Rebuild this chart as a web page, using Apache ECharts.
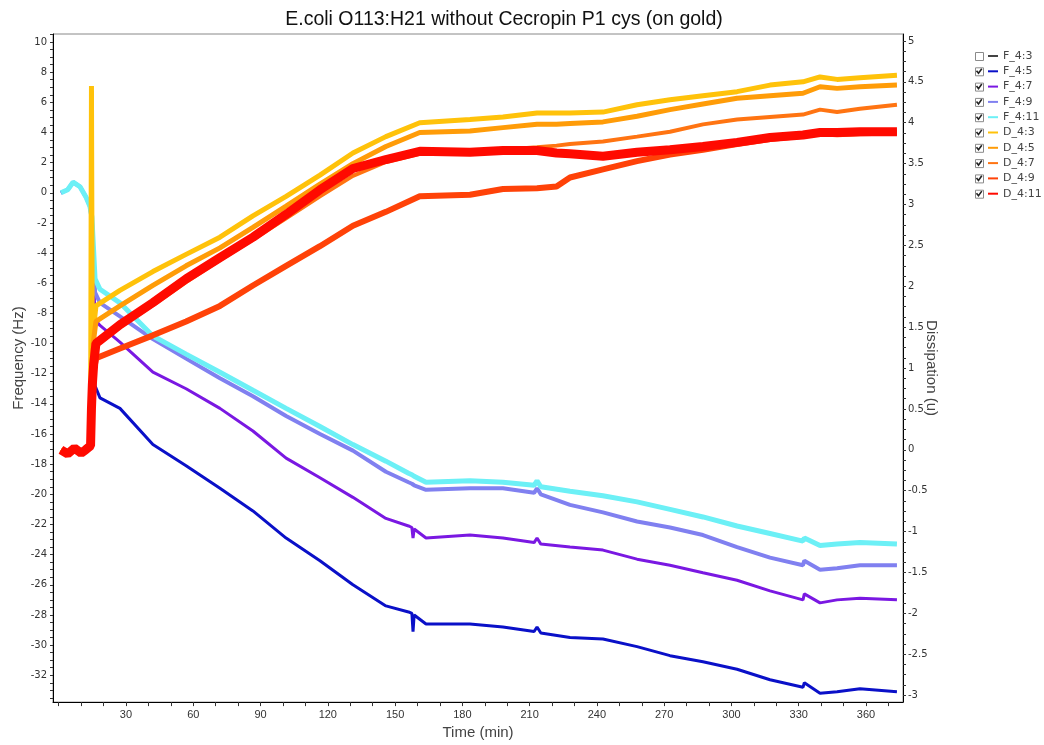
<!DOCTYPE html>
<html>
<head>
<meta charset="utf-8">
<script src="https://cdn.jsdelivr.net/npm/echarts@6/dist/echarts.min.js"></script>
<style>html,body{margin:0;padding:0;background:#fff}#c{width:1044px;height:745px}</style>
</head>
<body>
<div id="c"></div>
<script>
// ---- data (time in min) ----
const timeF = [1, 4, 6.4, 9.5, 12.2, 13.9, 14.8, 16.2, 18.4, 27.3, 42, 56.8, 71.9, 86.6, 101.4, 116.5, 131.2, 145.9, 156, 157.5, 158, 158.5, 163.8, 183.4, 198.1, 212, 213.3, 215, 228, 242.7, 257.9, 272.6, 287.3, 302.5, 317.2, 331.9, 332.5, 339.5, 347.1, 357.3, 373.8];
const F_4_3 = [];
const F_4_5 = [0.0, 0.2, 0.7, 0.4, -0.3, -0.9, -1.6, -12.8, -13.6, -14.3, -16.7, -18.1, -19.6, -21.1, -22.9, -24.4, -26.0, -27.4, -27.8, -27.9, -29.1, -28.0, -28.6, -28.6, -28.8, -29.1, -28.8, -29.2, -29.5, -29.6, -30.1, -30.7, -31.1, -31.6, -32.3, -32.8, -32.5, -33.2, -33.1, -32.9, -33.1];
const F_4_7 = [0.0, 0.2, 0.7, 0.4, -0.3, -0.9, -2.0, -8.4, -8.8, -9.9, -11.9, -13.0, -14.3, -15.8, -17.6, -18.9, -20.2, -21.6, -22.1, -22.2, -22.9, -22.3, -22.9, -22.7, -22.9, -23.2, -22.9, -23.3, -23.5, -23.7, -24.3, -24.7, -25.2, -25.7, -26.4, -27.0, -26.6, -27.2, -27.0, -26.9, -27.0];
const F_4_9 = [0.0, 0.2, 0.7, 0.4, -0.3, -0.9, -1.8, -6.6, -7.3, -8.2, -9.7, -11.0, -12.3, -13.5, -14.8, -16.0, -17.1, -18.5, -19.2, -19.3, -19.4, -19.4, -19.7, -19.6, -19.6, -19.9, -19.6, -20.0, -20.7, -21.2, -21.8, -22.2, -22.7, -23.5, -24.2, -24.7, -24.4, -25.0, -24.9, -24.7, -24.7];
const F_4_11 = [0.0, 0.2, 0.7, 0.4, -0.3, -0.9, -1.6, -5.7, -6.4, -7.3, -9.5, -10.7, -11.9, -13.1, -14.3, -15.5, -16.7, -17.8, -18.6, -18.7, -18.8, -18.8, -19.2, -19.1, -19.2, -19.4, -19.1, -19.5, -19.8, -20.1, -20.5, -21.0, -21.5, -22.1, -22.6, -23.1, -22.9, -23.4, -23.3, -23.2, -23.3];

const timeD = [1, 4, 7, 10, 12, 14.2, 14.6, 15.0, 15.6, 16.6, 27.3, 42, 56.8, 71.9, 86.6, 101.4, 116.5, 131.2, 145.9, 161, 183.4, 198.1, 213.3, 222, 228, 242.7, 257.9, 272.6, 287.3, 302.5, 317.2, 331.9, 339.5, 347.1, 357.3, 373.8];
const D_4_3 = [0.0, -0.05, 0.02, -0.04, 0.0, 0.05, 4.45, 1.0, 1.5, 1.76, 1.95, 2.18, 2.39, 2.6, 2.86, 3.1, 3.36, 3.63, 3.83, 4.0, 4.04, 4.07, 4.12, 4.12, 4.12, 4.13, 4.22, 4.28, 4.33, 4.38, 4.46, 4.5, 4.56, 4.53, 4.55, 4.58];
const D_4_5 = [0.0, -0.05, 0.02, -0.04, 0.0, 0.05, 0.9, 1.1, 1.35, 1.57, 1.76, 2.01, 2.25, 2.47, 2.72, 2.98, 3.25, 3.5, 3.71, 3.88, 3.9, 3.94, 3.98, 3.98, 3.99, 4.01, 4.08, 4.16, 4.23, 4.3, 4.33, 4.36, 4.44, 4.42, 4.44, 4.46];
const D_4_7 = [0.0, -0.05, 0.02, -0.04, 0.0, 0.05, 0.7, 0.9, 1.1, 1.27, 1.5, 1.77, 2.05, 2.32, 2.57, 2.83, 3.1, 3.35, 3.52, 3.62, 3.65, 3.67, 3.7, 3.72, 3.74, 3.77, 3.83, 3.89, 3.98, 4.04, 4.07, 4.1, 4.16, 4.13, 4.17, 4.22];
const D_4_9 = [0.0, -0.05, 0.02, -0.04, 0.0, 0.05, 0.4, 0.7, 0.95, 1.12, 1.24, 1.4, 1.57, 1.76, 2.01, 2.25, 2.49, 2.74, 2.91, 3.1, 3.12, 3.19, 3.2, 3.22, 3.33, 3.43, 3.53, 3.61, 3.67, 3.74, 3.8, 3.84, 3.87, 3.86, 3.87, 3.88];
const D_4_11 = [0.0, -0.05, 0.02, -0.04, 0.0, 0.05, 0.5, 0.8, 1.05, 1.3, 1.53, 1.8, 2.09, 2.35, 2.6, 2.88, 3.18, 3.44, 3.55, 3.65, 3.64, 3.66, 3.66, 3.63, 3.62, 3.59, 3.64, 3.67, 3.71, 3.76, 3.82, 3.85, 3.88, 3.88, 3.89, 3.89];

const seriesNames = ['F_4:3', 'F_4:5', 'F_4:7', 'F_4:9', 'F_4:11', 'D_4:3', 'D_4:5', 'D_4:7', 'D_4:9', 'D_4:11'];
const xLabelValues = [30, 60, 90, 120, 150, 180, 210, 240, 270, 300, 330, 360];

// ---- helpers to build the option ----
function pairs(t, v) { return v.map((y, i) => [t[i], y]); }
function range(a, b, s) { const r = []; for (let v = a; v <= b + 1e-9; v += s) r.push(Math.round(v * 1000) / 1000); return r; }

const fSeries = [
  { name: 'F_4:3', data: pairs(timeF, F_4_3), color: '#2c2c6c', w: 2 },
  { name: 'F_4:5', data: pairs(timeF, F_4_5), color: '#0a10c8', w: 3 },
  { name: 'F_4:7', data: pairs(timeF, F_4_7), color: '#7a18e2', w: 3 },
  { name: 'F_4:9', data: pairs(timeF, F_4_9), color: '#8080f0', w: 4 },
  { name: 'F_4:11', data: pairs(timeF, F_4_11), color: '#6cf0f6', w: 5 }
];
const dSeries = [
  { name: 'D_4:3', data: pairs(timeD, D_4_3), color: '#ffc20a', w: 5 },
  { name: 'D_4:5', data: pairs(timeD, D_4_5), color: '#ff9c08', w: 5 },
  { name: 'D_4:7', data: pairs(timeD, D_4_7), color: '#ff7412', w: 4 },
  { name: 'D_4:9', data: pairs(timeD, D_4_9), color: '#ff4208', w: 6 },
  { name: 'D_4:11', data: pairs(timeD, D_4_11), color: '#ff0a00', w: 9 }
];

const series = [];
fSeries.forEach(s => series.push({ name: s.name, type: 'line', xAxisIndex: 0, yAxisIndex: 0, data: s.data, showSymbol: false, symbol: 'none', lineStyle: { color: s.color, width: s.w }, itemStyle: { color: s.color }, z: 2 }));
dSeries.forEach(s => series.push({ name: s.name, type: 'line', xAxisIndex: 0, yAxisIndex: 1, data: s.data, showSymbol: false, symbol: 'none', lineStyle: { color: s.color, width: s.w }, itemStyle: { color: s.color }, z: 3 }));

// legend checkboxes (decoration)
const graphics = [];
seriesNames.forEach((n, i) => {
  const cy = 56 + 15.3 * i;
  graphics.push({ type: 'rect', left: 975, top: cy - 4, shape: { x: 0, y: 0, width: 8, height: 8 }, style: { fill: '#fff', stroke: '#8a8a8a', lineWidth: 1 } });
  if (i > 0) graphics.push({ type: 'polyline', shape: { points: [[976.5, cy - 0.5], [978.5, cy + 2], [981.8, cy - 2.6]] }, style: { stroke: '#222', lineWidth: 1.6, fill: null } });
});

const labelFont = { fontFamily: 'DejaVu Sans', fontSize: 10, color: '#333' };

const option = {
  animation: false,
  backgroundColor: '#fff',
  title: { text: 'E.coli O113:H21 without Cecropin P1 cys (on gold)', left: 499, top: 5, textAlign: 'center',
    textStyle: { fontFamily: 'Liberation Sans', fontSize: 19.5, fontWeight: 'normal', color: '#111' } },
  legend: {
    orient: 'vertical', left: 988, top: 48.5, padding: 0, itemGap: 0.3, itemWidth: 10, itemHeight: 2, icon: 'rect',
    data: seriesNames, selected: { 'F_4:3': false }, inactiveColor: '#444',
    textStyle: { fontFamily: 'DejaVu Sans', fontSize: 11, lineHeight: 15, color: '#444' }
  },
  grid: { left: 53, right: 141, top: 34, bottom: 39, show: true, borderColor: '#888', borderWidth: 1 },
  graphic: graphics,
  xAxis: [{
    type: 'value', min: -2.55, max: 376.5, name: 'Time (min)', nameLocation: 'middle', nameGap: 20,
    nameTextStyle: { fontFamily: 'Liberation Sans', fontSize: 15, color: '#444' },
    axisLine: { show: true, onZero: false, lineStyle: { color: '#000' } },
    axisTick: { show: true, customValues: range(0, 370, 10), length: 4, lineStyle: { color: '#333' } },
    axisLabel: { customValues: xLabelValues, fontFamily: 'Liberation Sans', fontSize: 11, color: '#333', margin: 7 },
    splitLine: { show: false }
  }],
  yAxis: [{
    type: 'value', min: -33.78, max: 10.53, name: 'Frequency (Hz)', nameLocation: 'middle', nameGap: 27, nameRotate: 90,
    nameMoveOverlap: false,
    nameTextStyle: { fontFamily: 'Liberation Sans', fontSize: 15, color: '#444', padding: [0, 0, 0, 20] },
    axisLine: { show: true, onZero: false, lineStyle: { color: '#000' } },
    axisTick: { show: true, customValues: range(-33.5, 10.5, 0.5), length: 3, lineStyle: { color: '#333' } },
    axisLabel: { customValues: range(-32, 10, 2), margin: 6, ...labelFont },
    splitLine: { show: false }
  }, {
    type: 'value', min: -3.085, max: 5.085, name: 'Dissipation (u)', nameLocation: 'middle', nameGap: 21, nameRotate: -90,
    nameMoveOverlap: false,
    nameTextStyle: { fontFamily: 'Liberation Sans', fontSize: 15, color: '#444' },
    axisLine: { show: true, onZero: false, lineStyle: { color: '#000' } },
    axisTick: { show: true, customValues: range(-3, 5, 0.125), length: 3, lineStyle: { color: '#333' } },
    axisLabel: { customValues: range(-3, 5, 0.5), margin: 5, ...labelFont },
    splitLine: { show: false }
  }],
  series: series
};

const chart = echarts.init(document.getElementById('c'), null, { renderer: 'canvas' });
chart.setOption(option);
</script>
</body>
</html>
